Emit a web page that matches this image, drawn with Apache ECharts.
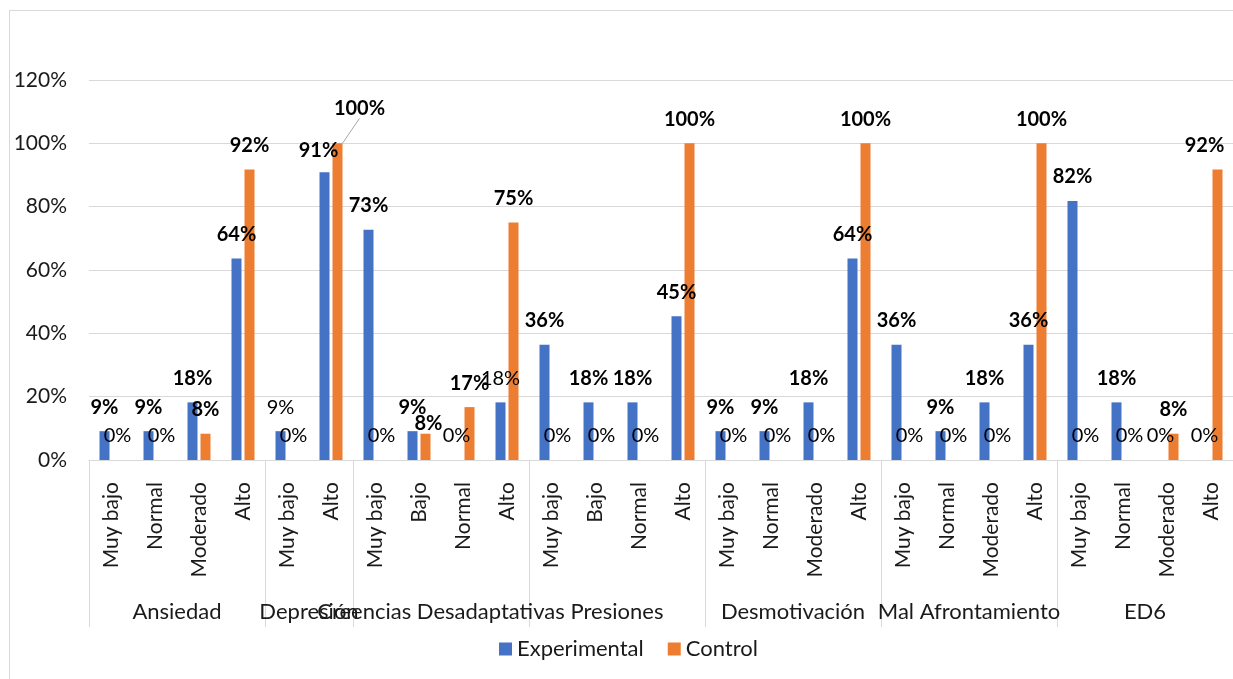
<!DOCTYPE html>
<html>
<head>
<meta charset="utf-8">
<script src="https://cdn.jsdelivr.net/npm/echarts@6/dist/echarts.min.js"></script>
<style>
  html, body { margin: 0; padding: 0; background: #fff; }
  .frame { position: absolute; left: 9px; top: 10px; width: 1300px; height: 700px;
           border-left: 1px solid #d9d9d9; border-top: 1px solid #d9d9d9; }
  #chart { position: absolute; left: 0; top: 0; width: 1233px; height: 679px; }
</style>
</head>
<body>
<div class="frame"></div>
<div id="chart"></div>
<script>
// grupos y niveles (eje de dos niveles)
const groups = ['Ansiedad', 'Depresión', 'Creencias Desadaptativas', 'Presiones',
                'Desmotivación', 'Mal Afrontamiento', 'ED6'];
const levels = [
  ['Muy bajo', 'Normal', 'Moderado', 'Alto'],
  ['Muy bajo', 'Alto'],
  ['Muy bajo', 'Bajo', 'Normal', 'Alto'],
  ['Muy bajo', 'Bajo', 'Normal', 'Alto'],
  ['Muy bajo', 'Normal', 'Moderado', 'Alto'],
  ['Muy bajo', 'Normal', 'Moderado', 'Alto'],
  ['Muy bajo', 'Normal', 'Moderado', 'Alto']
];
const experimental = [9.1, 9.1, 18.2, 63.6,  9.1, 90.9,  72.7, 9.1, 0, 18.2,
                      36.4, 18.2, 18.2, 45.4,  9.1, 9.1, 18.2, 63.6,
                      36.4, 9.1, 18.2, 36.4,  81.8, 18.2, 0, 0];
const control = [0, 0, 8.3, 91.7,  0, 100,  0, 8.3, 16.7, 75,
                 0, 0, 0, 100,  0, 0, 0, 100,  0, 0, 0, 100,  0, 0, 8.3, 91.7];
const yTicks = [0, 20, 40, 60, 80, 100, 120];

// etiquetas sin negrita (aparte de los 0%)
const plainExp = [4, 9];

const categories = [];
const bounds = [0];
const centers = [];
levels.forEach(function (lv) {
  const start = bounds[bounds.length - 1];
  lv.forEach(function (c) { categories.push(c); });
  centers.push(start + lv.length / 2);
  bounds.push(start + lv.length);
});

const FONT = 'Lato';

function makeData(values, plain, guideIdx) {
  return values.map(function (v, i) {
    const bold = v !== 0 && plain.indexOf(i) < 0;
    return {
      value: v,
      label: { fontWeight: bold ? 'bold' : 'normal' },
      labelLine: { show: i === guideIdx }
    };
  });
}

const chart = echarts.init(document.getElementById('chart'));
chart.setOption({
  animation: false,
  textStyle: { fontFamily: FONT },
  grid: { left: 89, right: 0, top: 80, bottom: 219, containLabel: false },
  legend: {
    data: ['Experimental', 'Control'],
    left: 494,
    top: 633,
    itemWidth: 13,
    itemHeight: 13,
    itemGap: 24,
    icon: 'rect',
    textStyle: { fontFamily: FONT, fontSize: 22, color: '#1a1a1a' }
  },
  xAxis: [{
    type: 'category',
    data: categories,
    position: 'bottom',
    axisLine: { onZero: false, lineStyle: { color: '#d9d9d9' } },
    axisTick: { show: false },
    axisLabel: { interval: 0, rotate: 90, margin: 22, fontSize: 21, color: '#1a1a1a', fontFamily: FONT }
  }, {
    type: 'value',
    position: 'bottom',
    min: 0,
    max: bounds[bounds.length - 1],
    axisLine: { show: false, onZero: false },
    splitLine: { show: false },
    axisTick: { show: true, customValues: bounds, length: 167, lineStyle: { color: '#d9d9d9' } },
    axisLabel: {
      customValues: centers,
      margin: 141,
      fontSize: 22,
      color: '#1a1a1a',
      fontFamily: FONT,
      formatter: function (v) { return groups[centers.indexOf(v)]; }
    }
  }],
  yAxis: {
    type: 'value',
    min: yTicks[0],
    max: yTicks[yTicks.length - 1],
    interval: 20,
    axisLine: { show: false, onZero: false },
    axisTick: { show: false },
    splitLine: { lineStyle: { color: '#d9d9d9', width: 1 } },
    axisLabel: { formatter: '{value}%', fontSize: 21, color: '#1a1a1a', margin: 22, fontFamily: FONT }
  },
  series: [{
    name: 'Experimental',
    type: 'bar',
    barWidth: 10,
    barGap: '30%',
    itemStyle: { color: '#4472C4' },
    label: {
      show: true, position: 'top', distance: 14, fontSize: 20, color: '#000', fontFamily: FONT,
      formatter: function (p) { return Math.round(p.value) + '%'; }
    },
    labelLayout: function (p) {
      if (p.dataIndex === 5) return { dx: -6, dy: 2 };
      return {};
    },
    data: makeData(experimental, plainExp, -1)
  }, {
    name: 'Control',
    type: 'bar',
    barWidth: 10,
    itemStyle: { color: '#ED7D31' },
    label: {
      show: true, position: 'top', distance: 14, fontSize: 20, color: '#000', fontFamily: FONT,
      formatter: function (p) { return Math.round(p.value) + '%'; }
    },
    labelLine: { show: false, lineStyle: { color: '#a6a6a6', width: 1 } },
    labelLayout: function (p) {
      if (p.dataIndex === 5) return { dx: 22, dy: -11 };
      if (p.dataIndex === 7) return { dx: 3, dy: 14 };
      if (p.dataIndex === 25) return { dx: -13 };
      return {};
    },
    data: makeData(control, [], 5)
  }]
});
</script>
</body>
</html>
